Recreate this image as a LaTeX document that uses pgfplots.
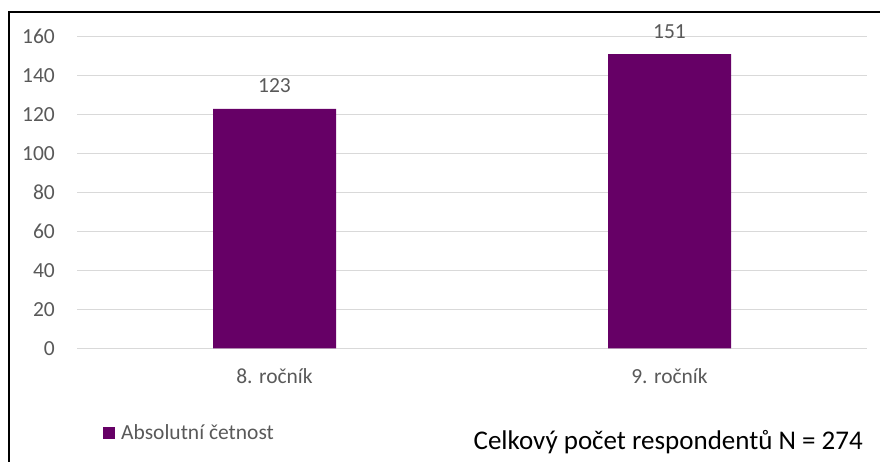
\documentclass[border=0pt]{standalone}
\usepackage{fontspec}
\setmainfont{Carlito}
\usepackage{pgfplots}
\pgfplotsset{compat=1.18}
\definecolor{barpurple}{HTML}{660066}
\definecolor{gridgray}{HTML}{D9D9D9}
\definecolor{labelgray}{HTML}{595959}
\newcommand{\smallfont}{\fontsize{21.5}{25}\selectfont}
\begin{document}
\begin{tikzpicture}[x=1pt,y=1pt]
% outer chart frame (top and left edges)
\draw[line width=1.6pt, black] (9,0) -- (9,450) -- (880,450);
\begin{axis}[
  at={(77pt,113.5pt)}, anchor=south west,
  width=790pt, height=311.8pt, scale only axis,
  ybar, bar width=123pt,
  xmin=-0.5, xmax=1.5, ymin=0, ymax=160,
  xtick={0,1}, xticklabels={8. ročník, 9. ročník},
  ytick={0,20,...,160},
  ymajorgrids, grid style={gridgray, line width=1.2pt},
  axis line style={draw=none},
  major tick length=0pt,
  tick label style={font=\smallfont, text=labelgray},
  /pgf/number format/assume math mode=true,
  yticklabel style={anchor=east, inner sep=0pt, xshift=-22pt},
  xticklabel style={anchor=base, inner sep=0pt, yshift=-35pt},
  nodes near coords,
  nodes near coords style={font=\smallfont, text=labelgray, anchor=base, inner sep=0pt, yshift=16pt},
  legend style={draw=none, fill=none, at={(axis description cs:0.0329,-0.271)}, anchor=west,
    inner sep=0pt, font=\smallfont, text=labelgray, nodes={inner xsep=6pt, inner ysep=0pt}},
  clip=false,
]
\addplot[fill=barpurple, draw=none,
  legend image code/.code={\fill[barpurple] (0pt,-6pt) rectangle (12pt,6pt);}]
  coordinates {(0,123) (1,151)};
\addlegendentry{Absolutní četnost}
\end{axis}
\node[anchor=base east, inner sep=0pt, font=\fontsize{27}{32}\selectfont] at (863,12.7) {Celkový počet respondentů N = 274};
\pgfresetboundingbox
\path[use as bounding box] (0,0) rectangle (880,462);
\end{tikzpicture}
\end{document}
